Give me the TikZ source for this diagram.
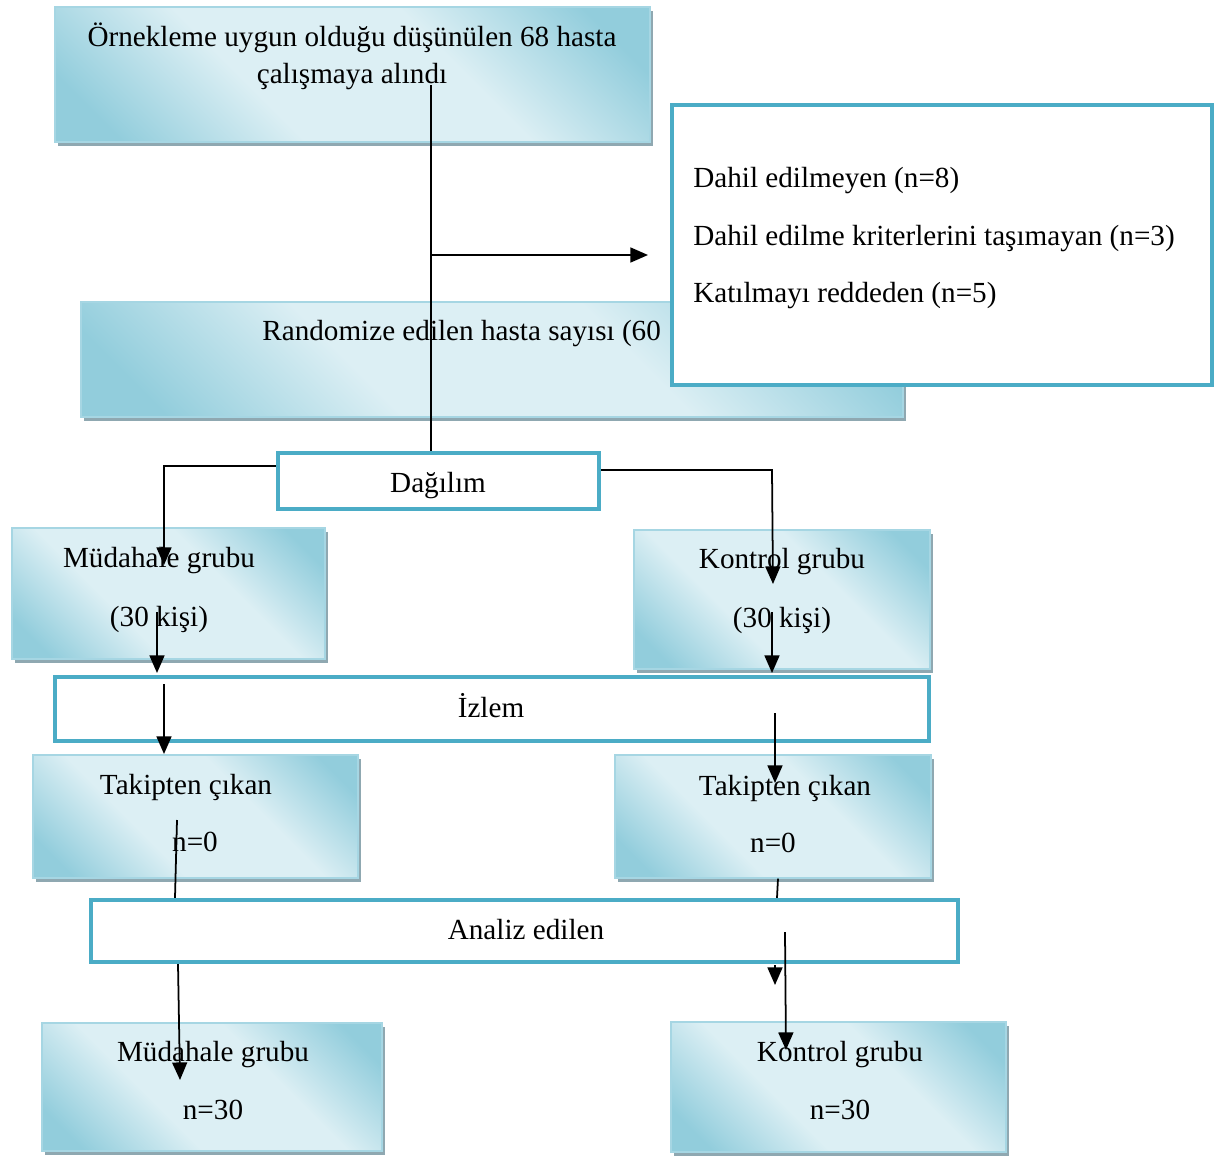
\documentclass[tikz,border=0pt]{standalone}
\usepackage{fontspec}
\setmainfont{Liberation Serif}
\usepackage{tikz}
\usetikzlibrary{arrows.meta,calc,fit,shadows}
\definecolor{aqua}{HTML}{92CDDC}
\definecolor{aqualight}{HTML}{DCEFF4}
\definecolor{aquaedge}{HTML}{4BACC6}
\definecolor{kenar}{HTML}{A6D6E3}
\definecolor{golge}{HTML}{8FA8B1}
\pgfdeclareverticalshading{aquashade}{100bp}{color(0bp)=(aqua); color(21bp)=(aqua);
  color(39bp)=(aqualight); color(61bp)=(aqualight); color(79bp)=(aqua); color(100bp)=(aqua)}

\begin{document}
\begin{tikzpicture}[x=0.02cm, y=-0.02cm,
  font=\fontsize{16.6pt}{20.4pt}\selectfont,
  gbox/.style={draw=kenar, line width=0.8pt, inner sep=0pt,
    shading=aquashade, shading angle=-45,
    drop shadow={shadow xshift=0.06cm, shadow yshift=-0.08cm, fill=golge, opacity=1}},
  wbox/.style={draw=aquaedge, line width=2.4pt, fill=white, inner sep=0pt},
  txt/.style={inner sep=0pt, anchor=base},
  ltxt/.style={inner sep=0pt, anchor=base west},
  ln/.style={line width=1pt},
  arr/.style={line width=1pt, -{Triangle[length=10pt,width=8.5pt]}}]
  \useasboundingbox (0,0) rectangle (1218,1156);

  % renkli kutular
  \foreach \n/\xa/\ya/\xb/\yb in {top/55/7/650/142, rand/81/302/903/417,
      mud1/12/528/325/659, kon1/634/530/930/669, tak1/33/755/358/878,
      tak2/615/755/931/878, mud2/42/1023/382/1151, kon2/671/1022/1006/1152}
    \node[gbox, fit={(\xa,\ya) (\xb,\yb)}] (\n) {};

  % beyaz kutular
  \foreach \n/\xa/\ya/\xb/\yb in {excl/672/105/1212/385, dag/278/453/599/509,
      izlem/55/677/929/741, analiz/91/900/958/962}
    \node[wbox, fit={(\xa,\ya) (\xb,\yb)}] (\n) {};

  % metinler
  \node[txt] (t1a) at (352,47) {Örnekleme uygun olduğu düşünülen 68 hasta};
  \node[txt] (t1b) at (352,83) {çalışmaya alındı};
  \node[ltxt] (t2) at (262,340) {Randomize edilen hasta sayısı (60};
  \node[ltxt] (e1) at (693,187) {Dahil edilmeyen (n=8)};
  \node[ltxt] (e2) at (693,245) {Dahil edilme kriterlerini taşımayan (n=3)};
  \node[ltxt] (e3) at (693,302) {Katılmayı reddeden (n=5)};
  \node[txt] (t3) at (438,492) {Dağılım};
  \node[txt] (m1a) at (159,567) {Müdahale grubu};
  \node[txt] (m1b) at (159,626) {(30 kişi)};
  \node[txt] (k1a) at (782,568) {Kontrol grubu};
  \node[txt] (k1b) at (782,627) {(30 kişi)};
  \node[txt] (t4) at (491,717) {İzlem};
  \node[txt] (ta1) at (186,794) {Takipten çıkan};
  \node[txt] (tb1) at (195,851) {n=0};
  \node[txt] (ta2) at (785,795) {Takipten çıkan};
  \node[txt] (tb2) at (773,852) {n=0};
  \node[txt] (t5) at (526,939) {Analiz edilen};
  \node[txt] (m2a) at (213,1061) {Müdahale grubu};
  \node[txt] (m2b) at (213,1119) {n=30};
  \node[txt] (k2a) at (840,1061) {Kontrol grubu};
  \node[txt] (k2b) at (840,1119) {n=30};

  % oklar
  \coordinate (p1) at (431,85);
  \coordinate (p2) at (648,255);
  \coordinate (d1) at (164,466);
  \coordinate (p3) at (164,565);
  \coordinate (d2) at (772,470);
  \coordinate (p4) at (773,584);
  \draw[ln] (p1) -- (p1 |- dag.north);
  \draw[arr] (p1 |- p2) -- (p2);
  \draw[arr] (dag.west |- d1) -- (d1) -- (p3);
  \draw[arr] (dag.east |- d2) -- (d2) -- (p4);

  \foreach \i/\xa/\ya/\xb/\yb in {5/157/612/157/673, 6/772/612/772/673,
      7/164/684/164/754, 8/775/713/775/783, 12/775/965/775/985,
      13/785/932/786/1050} {
    \coordinate (a\i) at (\xa,\ya);
    \coordinate (b\i) at (\xb,\yb);
    \draw[arr] (a\i) -- (b\i);
  }

  \coordinate (a9) at (177,820);
  \coordinate (b9) at (175,900);
  \draw[ln] (a9) -- (b9 |- analiz.north);
  \coordinate (a10) at (778,878);
  \coordinate (b10) at (777,900);
  \draw[ln] (a10 |- tak2.south) -- (b10 |- analiz.north);
  \coordinate (a11) at (178,962);
  \coordinate (b11) at (180,1080);
  \draw[arr] (a11 |- analiz.south) -- (b11);
\end{tikzpicture}
\end{document}
